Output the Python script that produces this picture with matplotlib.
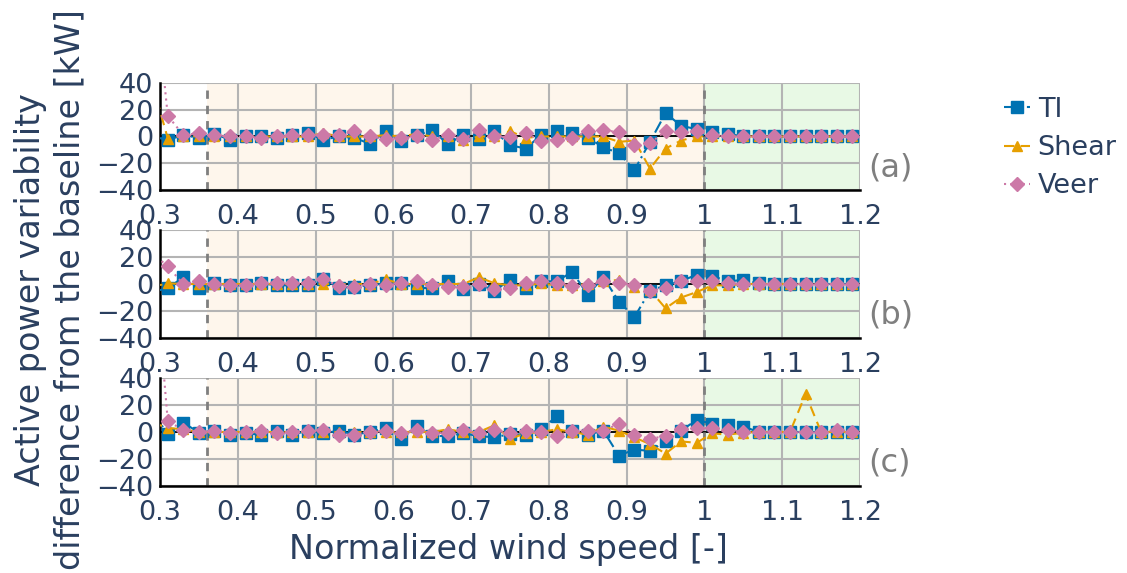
#!/usr/bin/env python
# -*- coding: utf-8 -*-

import numpy as np
import matplotlib
matplotlib.use("Agg")
import matplotlib.pyplot as plt
from matplotlib.ticker import FixedLocator, FixedFormatter


############################################
# DATA
############################################

# normalized wind speed bins (first bin sits just left of the visible range)
wind_speed = np.round(np.arange(0.29, 1.20, 0.02), 2)

# (a)
ti_a = [0,
        -2.5, 1, -1, 2, -2.5, 0, 0, -1, 1, 2.5, -2.5, 0, -1, -5.5, 4, -3, 1, 4.5, -5.5, 1, -2, 4, -6.5, -9,
        1, 4, 2.5, -1, -8, -12.5, -25, -4, 17.5, 8, 5.5, 3, 2, 0, 0, 0, 0, 0, 0, 0, 0]
shear_a = [40,
           -1.5, 0.5, 0, 0, 0, 0, 0, 0, 0, 0, 2.5, 0, 0, 0, 1, 0, 2, 0, 0, -2.5, 0, 0, 4, -1,
           0, 0, 0, 0, 0, -4, -3, -24, -9, -3, 0, 0, 0, 0, 0, 0, 0, 0, 0, 0, 0]
veer_a = [130,
          15.5, 1, 2.5, 1, 0, 0, -1, 0, 1, 1, 1, 1, 4, 0, -2, -1, 0, -2.5, 1, -2, 5, 0, -0.5, 2.5,
          -3, -2.5, -1, 4, 5, 3, -6, -5, 4, 3, 4, 1, 0, 0, 0, 0, 0, 0, 0, 0, 0]

# (b)
ti_b = [-6,
        -3, 5, -3, 0.5, -1, -1, 0.5, -1, -1, -1, 4, -3, -2, -1, 0.5, 0.5, -3, -3, 2, -4, 0, -5, 3, -3,
        2, 2, 9, -8, 5, -13, -24.5, -5, -1, 2, 7, 6, 2, 3, 0.5, 0, 0, 0, 0, 0, 0]
shear_b = [-2,
           0.5, 0, 0, 0, 0, 0, 0, 0, 0, 0, 0, 0, 0, 0, 3.5, 0, 0, 0, 0, 0, 5, 0.5, -1, -1,
           0.5, -1, -1, 0, 2, 3, -2, -4.5, -18, -10, -6, -1, -1, 0, 0, 0, 0, 0, 0, 0, 0]
veer_b = [23,
          13, 0, 2, 0, -1, -1, 1, 1, 1, 0.5, 3.5, -1.5, -2, 0, -1, 0.5, 2, -1, -2, -2, 0, -4, -3, 0.5,
          2, 1, -1.5, -1, 2, 1, -1, -5, -3, 2, 2.5, 2, 0.5, 0, 0, 0, 0, 0, 0, 0, 0]

# (c)
ti_c = [15,
        -1.5, 7, -0.5, 1, -2, -1, -2, 1, -2, 1, -1, 1, -2, 0, 3, -5, 4.5, -3, -3, -1, -3, -4, -1.5, -2,
        2, 11.5, 1, -2, 1, -17.5, -13, -14, -7, 1, 9, 6, 5, 4, 0, 0, 0, 0, 0, 0, 0]
shear_c = [7,
           3, 2, 0, 0, 0, 0, 0, 0, 0, 0, 0, 0, 0, 0, 0, 0, 0, 0, 2, 0, 0, 5, -5, -1,
           0, 2, 0, -2, 4, 1, -4, -9, -16, -7, -8, -1, -2, -0.5, 0, 0, 0, 28, 0, 0, 0]
veer_c = [145,
          8, 1.5, 0, 1, -1, 0, 1, -1, 0, 1, 1.5, -2, -2, 0, 1, -1, 1.5, -1, -0.5, 1.5, -0.5, 1.5, -1, 0.5,
          0, -3, 1, 1, 1, 6, -2, -5, -3, 2, 3, 3, 1.5, 0, 0, 0, 0, 0, 0, 1.5, 0]

panel_labels = ["(a)", "(b)", "(c)"]
x_ticks = [0.3, 0.4, 0.5, 0.6, 0.7, 0.8, 0.9, 1.0, 1.1, 1.2]
x_tick_labels = ["0.3", "0.4", "0.5", "0.6", "0.7", "0.8", "0.9", "1", "1.1", "1.2"]
y_ticks = [-40, -20, 0, 20, 40]

# region boundaries
partial_load_start = 0.36
rated_speed = 1.0


############################################
# STYLE
############################################

plt.rcParams['font.family'] = ['DejaVu Sans']
TEXT_COLOR = '#2a3f5f'
GRID_COLOR = '#b4b4b4'

series_style = {
    'TI': dict(color='#0072B2', marker='s', ms=8, ls=(0, (6, 2, 1, 2))),
    'Shear': dict(color='#E69F00', marker='^', ms=7, ls=(0, (5, 3))),
    'Veer': dict(color='#CC79A7', marker='D', ms=7, ls=(0, (1, 2))),
}


def style_axis(ax):
    """Plotly-like axis: no ticks, grey grid, black zero line."""
    ax.set_xlim(0.3, 1.2)
    ax.set_ylim(-40, 40)
    ax.axvspan(partial_load_start, rated_speed, color='#fef6ec', lw=0, zorder=0)
    ax.axvspan(rated_speed, 1.2, color='#e8f9e5', lw=0, zorder=0)
    ax.xaxis.set_major_locator(FixedLocator(x_ticks))
    ax.xaxis.set_major_formatter(FixedFormatter(x_tick_labels))
    ax.set_yticks(y_ticks)
    ax.grid(True, color=GRID_COLOR, lw=1.5, zorder=1)
    ax.set_axisbelow(True)
    ax.axhline(0, color='black', lw=1.3, zorder=2)
    for x in (partial_load_start, rated_speed):
        ax.axvline(x, color='#7f7f7f', lw=2, ls=(0, (3, 2.5)), zorder=2)
    for side in ('top', 'right'):
        ax.spines[side].set_visible(False)
    for side in ('left', 'bottom'):
        ax.spines[side].set_color('black')
        ax.spines[side].set_linewidth(1.8)
    ax.tick_params(length=0, labelsize=19.5, labelcolor=TEXT_COLOR)
    ax.tick_params(axis='x', pad=10)
    ax.tick_params(axis='y', pad=5)
    ax.set_facecolor('white')


############################################
# PLOT
############################################

fig = plt.figure(figsize=(11.27, 5.73), dpi=100)

W, H = 1127.0, 573.0
# (top, bottom) in pixel rows for each panel
panel_rows = [(83, 190), (230, 338), (378, 486)]
panel_data = [
    (ti_a, shear_a, veer_a),
    (ti_b, shear_b, veer_b),
    (ti_c, shear_c, veer_c),
]

axes = []
for (top, bottom), (ti, shear, veer), label in zip(panel_rows, panel_data, panel_labels):
    ax = fig.add_axes([160 / W, 1 - bottom / H, 700 / W, (bottom - top) / H])
    style_axis(ax)
    for name, values in (('TI', ti), ('Shear', shear), ('Veer', veer)):
        st = series_style[name]
        ax.plot(wind_speed, values, color=st['color'], ls=st['ls'], lw=1.5,
                marker=st['marker'], ms=st['ms'], mec=st['color'], mfc=st['color'],
                label=name, zorder=3)
    ax.text(1.012, 0.21, label, transform=ax.transAxes, fontsize=23,
            color='#7f7f7f', ha='left', va='center')
    axes.append(ax)

fig.text(508 / W, 1 - 549 / H, "Normalized wind speed [-]", fontsize=24,
         color=TEXT_COLOR, ha='center', va='center')
fig.text(50 / W, 1 - 290 / H, "Active power variability\ndifference from the baseline [kW]",
         fontsize=24, color=TEXT_COLOR, ha='center', va='center', rotation=90,
         multialignment='center', linespacing=1.25)

handles, labels = axes[0].get_legend_handles_labels()
fig.legend(handles, labels, loc='upper left', bbox_to_anchor=(993 / W, 1 - 86 / H),
           borderaxespad=0, frameon=False, fontsize=19.5, handlelength=0.95,
           handletextpad=0.3, labelspacing=0.45, labelcolor=TEXT_COLOR)

fig.savefig('out.png', dpi=100)
